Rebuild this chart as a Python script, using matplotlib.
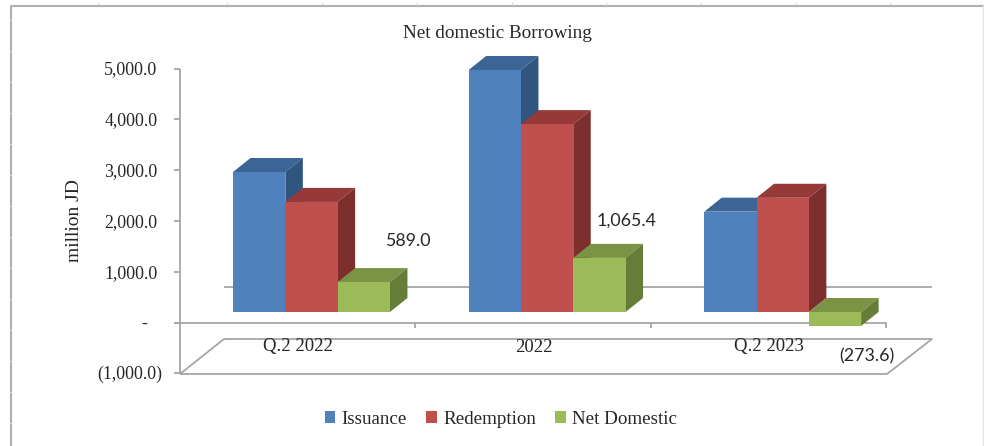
import matplotlib
matplotlib.use("Agg")
import matplotlib.pyplot as plt
from matplotlib.patches import Polygon

# data
categories = ['Q.2 2022', '2022', 'Q.2 2023']
issuance = [2756.0, 4764.0, 1975.0]
redemption = [2167.0, 3698.6, 2248.6]
net_domestic = [589.0, 1065.4, -273.6]
y_ticks = [5000, 4000, 3000, 2000, 1000, 0, -1000]
y_tick_labels = ['5,000.0', '4,000.0', '3,000.0', '2,000.0', '1,000.0', '-', '(1,000.0)']
net_labels = ['589.0', '1,065.4', '(273.6)']

W, H = 984, 446
PX_X = 235.6    # pixels per category
PX_Y = 0.0508   # pixels per unit
X0, Y0 = 311.5, 312   # pixel of first group centre / bar base
BAR_W = 52.3 / PX_X
DX, DY = 17.5 / PX_X, 14 / PX_Y

series = [
    ('Issuance', issuance, '#4F81BD', '#3C6494', '#30567F'),
    ('Redemption', redemption, '#C0504D', '#953A38', '#7D2F2D'),
    ('Net Domestic', net_domestic, '#9BBB59', '#7A9344', '#667D38'),
]

plt.rcParams['font.family'] = ['Liberation Serif', 'DejaVu Serif']
GRAY = '#A6A6A6'
TXT = '#262626'

fig = plt.figure(figsize=(W / 100, H / 100), dpi=100)
ax = fig.add_axes([0, 0, 1, 1])
ax.set_xlim(-X0 / PX_X, (W - X0) / PX_X)
ax.set_ylim((Y0 - H) / PX_Y, Y0 / PX_Y)
ax.axis('off')


def px(x, y):
    # picture pixel to data position, for the frame and text only
    return (x - X0) / PX_X, (Y0 - y) / PX_Y


def line(pts, color=GRAY, lw=1.3):
    xy = [px(*p) for p in pts]
    ax.plot([p[0] for p in xy], [p[1] for p in xy], color=color, lw=lw,
            solid_capstyle='butt', zorder=1)


# outer chart border with the small marks along top and left
line([(11, 447), (11, 5.5), (984, 5.5)], color='#B0B0B0', lw=1.5)
line([(983, 5), (983, 447)], color='#E4E4E4', lw=1)
for tx in [98.5, 227, 322, 416.5, 511.5, 606, 700.5, 795.5, 890]:
    line([(tx, 2), (tx, 5)], color='#D8D8D8', lw=0.8)
for ty in range(20, 446, 31):
    line([(9, ty), (11, ty)], color='#E4E4E4', lw=0.8)

# walls and floor
line([(180, 374), (887, 374), (932, 339), (224, 339), (180, 374)])
line([(224, 287), (932, 287)])
line([(180, 69), (180, 374)])
line([(174, 322.5), (887, 322.5)])
for tx in [415, 650.5, 886]:
    line([(tx, 322.5), (tx, 328)])

# y ticks on the front plane of the wall
for val, lab in zip(y_ticks, y_tick_labels):
    py = 322.5 - val * PX_Y
    line([(174, py), (180, py)])
    right = {0: 147, -1000: 162.5}.get(val, 157.5)
    x, y = px(right, py + 1.5)
    ax.text(x, y, lab, ha='right', va='center', fontsize=12.9, color=TXT)

# bars, one group at a time so each bar covers its left neighbour's side
handles = []
for g in range(len(categories)):
    for s, (name, vals, front, top, side) in enumerate(series):
        v = vals[g]
        left = g + (s - 1.5) * BAR_W
        right = left + BAR_W
        hi, lo = max(v, 0), min(v, 0)
        ax.add_patch(Polygon([(left, hi), (right, hi), (right + DX, hi + DY), (left + DX, hi + DY)],
                             fc=top, ec='none', zorder=3))
        ax.add_patch(Polygon([(right, lo), (right + DX, lo + DY), (right + DX, hi + DY), (right, hi)],
                             fc=side, ec='none', zorder=3))
        b = ax.bar(left, v, width=BAR_W, align='edge', color=front, lw=0, zorder=3, label=name)
        if g == 0:
            handles.append(b)

# labels
for g, cat in enumerate(categories):
    x, y = px(X0 + g * PX_X - 13.5, 347)
    ax.text(x, y, cat, ha='center', va='center', fontsize=13.5, color=TXT)

label_pos = [(408, 241), (626, 221), (867, 356)]
for lab, (lx, ly) in zip(net_labels, label_pos):
    x, y = px(lx, ly)
    ax.text(x, y, lab, ha='center', va='center', fontsize=12.8, color=TXT,
            family=['Lato', 'DejaVu Sans'])

x, y = px(497, 33)
ax.text(x, y, 'Net domestic Borrowing', ha='center', va='center', fontsize=13.8, color=TXT)
x, y = px(74.5, 221)
ax.text(x, y, 'million JD', rotation=90, ha='center', va='center', fontsize=14, color=TXT)

x, y = px(501, 419)
ax.legend(handles, [s[0] for s in series], loc='center', bbox_to_anchor=(x, y),
          bbox_transform=ax.transData, ncol=3, frameon=False, fontsize=13.7,
          handlelength=0.55, handleheight=0.55, handletextpad=0.35, columnspacing=1.0,
          labelcolor=TXT)

fig.savefig('out.png', dpi=100)
